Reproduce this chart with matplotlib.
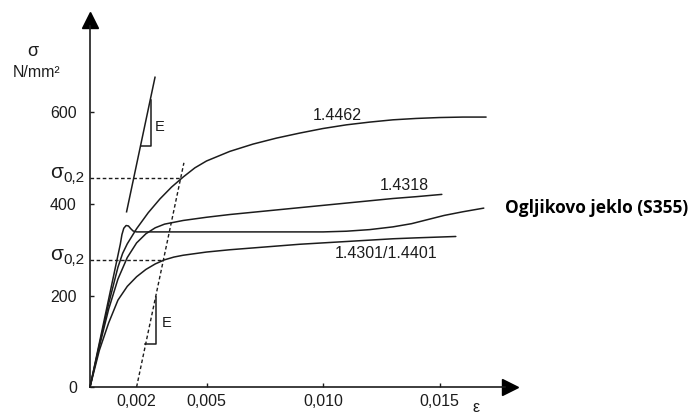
import matplotlib
matplotlib.use("Agg")
import matplotlib.pyplot as plt

plt.rcParams['font.family'] = ['Liberation Sans', 'DejaVu Sans']

# ---------------- data (strain [-], stress [N/mm2]) ----------------
eps_14462 = [0, 0.0004, 0.0008, 0.0012, 0.0014, 0.0016, 0.0020, 0.0025, 0.0030, 0.0035,
             0.0040, 0.0045, 0.0050, 0.0060, 0.0070, 0.0080, 0.0090, 0.0100, 0.0110,
             0.0120, 0.0130, 0.0140, 0.0150, 0.0160, 0.0170]
sig_14462 = [0, 92, 182, 262, 292, 313, 346, 381, 411, 437,
             459, 479, 494, 515, 531, 544, 555, 565, 573,
             579, 584, 587, 589, 590, 590]

eps_14318 = [0, 0.0004, 0.0008, 0.0012, 0.0016, 0.0020, 0.0024, 0.0028, 0.0032, 0.0036,
             0.0040, 0.0050, 0.0060, 0.0070, 0.0080, 0.0090, 0.0100, 0.0110, 0.0120,
             0.0130, 0.0140, 0.0151]
sig_14318 = [0, 88, 170, 236, 283, 315, 335, 348, 356, 360,
             364, 371, 377, 382, 387, 392, 397, 402, 407,
             412, 416, 421]

eps_14301 = [0, 0.0004, 0.0008, 0.0012, 0.0016, 0.0020, 0.0024, 0.0028, 0.0032, 0.0036,
             0.0040, 0.0050, 0.0060, 0.0070, 0.0080, 0.0090, 0.0100, 0.0110, 0.0120,
             0.0130, 0.0140, 0.0157]
sig_14301 = [0, 80, 140, 190, 220, 241, 257, 269, 278, 284,
             288, 295, 300, 304, 308, 312, 315, 318, 321,
             324, 326, 329]

eps_s355 = [0, 0.00130, 0.00137, 0.00145, 0.00155, 0.00165, 0.00175, 0.00185, 0.0020,
            0.0100, 0.0110, 0.0120, 0.0130, 0.0138, 0.0145, 0.0152, 0.0160, 0.0169]
sig_s355 = [0, 312, 333, 347, 353, 352, 346, 341, 339,
            339, 340.5, 344, 350, 357, 366, 375, 383, 391]

# 0.2 % offset line and proof stresses
offset_eps = [0.002, 0.00403]
offset_sig = [0, 490]
sigma02_upper = 456
sigma02_upper_eps = 0.00385
sigma02_lower = 277
sigma02_lower_eps = 0.00313

# modulus triangles
e_line_eps = [0.00157, 0.00279]
e_line_sig = [383, 677]
e_tri_upper_eps = [0.00217, 0.00260, 0.00260]
e_tri_upper_sig = [527, 527, 627]
e_tri_lower_eps = [0.00238, 0.00283, 0.00283]
e_tri_lower_sig = [93, 93, 197]

ytick_vals = [0, 200, 400, 600]
ytick_labels = ['0', '200', '400', '600']
xtick_vals = [0.002, 0.005, 0.010, 0.015]
xtick_labels = ['0,002', '0,005', '0,010', '0,015']

curve_labels = ['1.4462', '1.4318', '1.4301/1.4401']
s355_label = 'Ogljikovo jeklo (S355)'

# ---------------- layout helpers (pixel -> data) ----------------
W, H = 699, 416
X0PX, Y0PX = 90, 387
PX_PER_X = 23300.0
PX_PER_Y = 0.4575


def px2x(px):
    return (px - X0PX) / PX_PER_X


def py2y(py):
    return (Y0PX - py) / PX_PER_Y


fig = plt.figure(figsize=(W / 100, H / 100), dpi=100)
ax = fig.add_axes([0, 0, 1, 1])
ax.set_xlim(px2x(0), px2x(W))
ax.set_ylim(py2y(H), py2y(0))

col = '#1c1c1c'
lw = 1.1

for e, s in [(eps_14462, sig_14462), (eps_14318, sig_14318),
             (eps_14301, sig_14301), (eps_s355, sig_s355)]:
    ax.plot(e, s, color=col, lw=lw, solid_joinstyle='round', solid_capstyle='round')

dash = (0, (2.6, 1.8))
ax.plot(offset_eps, offset_sig, color=col, lw=1.0, linestyle=dash)
ax.plot([0, sigma02_upper_eps], [sigma02_upper, sigma02_upper], color=col, lw=1.0, linestyle=dash)
ax.plot([0, sigma02_lower_eps], [sigma02_lower, sigma02_lower], color=col, lw=1.0, linestyle=dash)

ax.plot(e_line_eps, e_line_sig, color=col, lw=lw)
ax.plot(e_tri_upper_eps, e_tri_upper_sig, color=col, lw=lw)
ax.plot(e_tri_lower_eps, e_tri_lower_sig, color=col, lw=lw)

# axes
for sp in ['top', 'right']:
    ax.spines[sp].set_visible(False)
ax.spines['left'].set_position(('data', 0))
ax.spines['bottom'].set_position(('data', 0))
ax.spines['left'].set_bounds(0, py2y(26))
ax.spines['bottom'].set_bounds(0, px2x(505))
ax.spines['left'].set_linewidth(1.2)
ax.spines['bottom'].set_linewidth(1.2)
ax.spines['left'].set_color(col)
ax.spines['bottom'].set_color(col)

ax.plot([0], [py2y(20)], marker='^', markersize=11.5, color='black', clip_on=False)
ax.plot([px2x(510)], [0], marker='>', markersize=11, color='black', clip_on=False)

ax.set_yticks(ytick_vals)
ax.set_yticklabels(ytick_labels)
ax.set_xticks(xtick_vals)
ax.set_xticklabels(xtick_labels)
ax.tick_params(axis='y', direction='in', length=3, width=1, pad=9.5, labelsize=11.5,
               colors=col)
ax.tick_params(axis='x', direction='in', length=3, width=1, pad=5, labelsize=11.5,
               colors=col)
ax.xaxis.get_major_ticks()[0].tick1line.set_visible(False)

# texts
ax.text(px2x(33), py2y(52), 'σ', ha='center', va='center', fontsize=13, color=col)
ax.text(px2x(37), py2y(73), 'N/mm²', ha='center', va='center', fontsize=11.5, color=col)

for yv, pyc in [(sigma02_upper, 173), (sigma02_lower, 255)]:
    ax.text(px2x(57), py2y(pyc), 'σ', ha='center', va='center', fontsize=15, color=col)
    ax.text(px2x(63), py2y(pyc + 5), '0,2', ha='left', va='center', fontsize=11, color=col)

ax.text(px2x(160), py2y(127), 'E', ha='center', va='center', fontsize=10.5, color=col)
ax.text(px2x(167), py2y(323), 'E', ha='center', va='center', fontsize=10.5, color=col)

ax.text(px2x(337), py2y(115), curve_labels[0], ha='center', va='center', fontsize=11.5, color=col)
ax.text(px2x(404), py2y(186), curve_labels[1], ha='center', va='center', fontsize=11.5, color=col)
ax.text(px2x(386), py2y(253), curve_labels[2], ha='center', va='center', fontsize=11.5, color=col)

ax.text(px2x(505), py2y(208), s355_label, ha='left', va='center', fontsize=12.5,
        fontweight='bold', family=['Open Sans', 'DejaVu Sans'], color='black')

ax.text(px2x(476), py2y(415), 'ε', ha='center', va='bottom', fontsize=11.5, color=col)

fig.savefig('out.png', dpi=100)
